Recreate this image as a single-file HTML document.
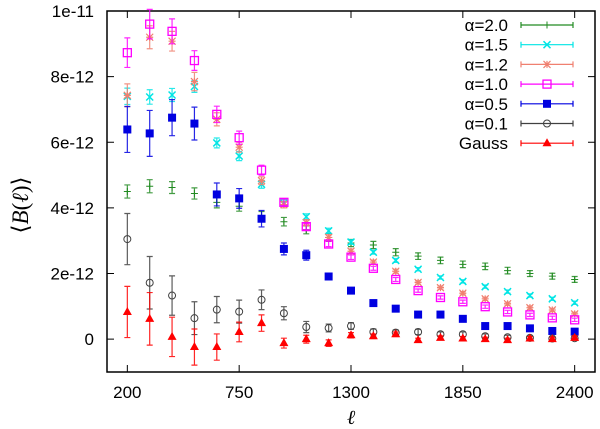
<!DOCTYPE html>
<html><head><meta charset="utf-8"><style>
body{margin:0;background:#fff}
svg{display:block;font-family:"Liberation Sans",sans-serif}
</style></head><body>
<svg id="chart" width="600" height="429" viewBox="0 0 600 429" xmlns="http://www.w3.org/2000/svg">
<g id="plot"></g>
</svg>
<script>
const ells = [200,310,420,530,640,750,860,970,1080,1190,1300,1410,1520,1630,1740,1850,1960,2070,2180,2290,2400];
const yTicks = [0,2,4,6,8,10];
const yTickLabels = ["0","2e-12","4e-12","6e-12","8e-12","1e-11"];
const xTicks = [200,750,1300,1850,2400];
const seriesNames = ["α=2.0","α=1.5","α=1.2","α=1.0","α=0.5","α=0.1","Gauss"];
const a20 = [4.5,4.66,4.62,4.44,4.17,4.05,3.75,3.58,3.33,3.1,2.93,2.87,2.65,2.53,2.4,2.28,2.22,2.09,2.0,1.92,1.82];
const a20err = [0.2,0.2,0.18,0.17,0.17,0.15,0.14,0.13,0.12,0.12,0.11,0.11,0.11,0.1,0.1,0.1,0.1,0.1,0.09,0.09,0.09];
const a15 = [7.4,7.38,7.44,7.7,5.98,5.58,4.72,4.15,3.73,3.3,2.96,2.65,2.4,2.13,1.88,1.76,1.6,1.45,1.33,1.23,1.11];
const a15err = [0.25,0.22,0.2,0.18,0.15,0.14,0.12,0.1,0.09,0.08,0.07,0.06,0.06,0.05,0.05,0.05,0.05,0.05,0.05,0.05,0.05];
const a12 = [7.43,9.2,9.08,7.85,6.7,5.85,4.83,4.1,3.55,3.1,2.68,2.35,2.07,1.73,1.57,1.4,1.23,1.08,0.96,0.89,0.77];
const a12err = [0.35,0.35,0.3,0.28,0.2,0.15,0.12,0.1,0.09,0.08,0.07,0.06,0.06,0.05,0.05,0.05,0.05,0.05,0.05,0.05,0.05];
const a10 = [8.73,9.6,9.38,8.49,6.85,6.14,5.15,4.17,3.43,2.9,2.5,2.16,1.82,1.48,1.27,1.14,0.99,0.83,0.74,0.65,0.59];
const a10err = [0.45,0.45,0.38,0.3,0.25,0.2,0.15,0.1,0.09,0.08,0.07,0.06,0.06,0.05,0.05,0.05,0.05,0.05,0.05,0.05,0.05];
const a05 = [6.39,6.27,6.75,6.57,4.41,4.29,3.67,2.75,2.56,1.91,1.48,1.1,0.93,0.75,0.75,0.62,0.4,0.4,0.33,0.25,0.23];
const a05err = [0.7,0.7,0.55,0.5,0.35,0.3,0.25,0.18,0.15,0.1,0.09,0.08,0.07,0.07,0.06,0.06,0.06,0.06,0.06,0.06,0.06];
const a01 = [3.05,1.72,1.33,0.64,0.9,0.84,1.2,0.79,0.37,0.34,0.4,0.22,0.2,0.22,0.15,0.15,0.09,0.06,0.04,0.02,0.03];
const a01err = [0.78,0.8,0.6,0.5,0.4,0.35,0.3,0.2,0.17,0.12,0.1,0.09,0.08,0.08,0.07,0.07,0.07,0.06,0.06,0.06,0.06];
const gauss = [0.83,0.62,0.07,-0.24,-0.24,0.22,0.49,-0.12,0,-0.12,0.12,0.09,0.15,-0.03,0.04,0.02,0,-0.03,0.02,0,0.04];
const gausserr = [0.78,0.8,0.6,0.55,0.4,0.3,0.25,0.15,0.12,0.1,0.08,0.07,0.07,0.06,0.06,0.06,0.06,0.06,0.06,0.06,0.06];

const NS="http://www.w3.org/2000/svg";
const L=107,R=595,T=11,B=372;
const xS=v=>L+(v-100)/(2500-100)*(R-L);
const yS=v=>B-(v+1)/11*(B-T);
const g=document.getElementById('plot');
function mk(tag,attrs,parent){const e=document.createElementNS(NS,tag);for(const k in attrs)e.setAttribute(k,attrs[k]);(parent||g).appendChild(e);return e;}

const frame=mk('rect',{x:L,y:T,width:R-L,height:B-T,fill:'none',stroke:'#000','stroke-width':1.5});


yTicks.forEach((t,i)=>{
  const y=yS(t);
  const tk=mk('path',{d:`M${L} ${y}h7M${R} ${y}h-7`,stroke:'#000','stroke-width':1});
  
  
  const tx=mk('text',{x:L-13,y:y+6,'text-anchor':'end','font-size':17});
  tx.textContent=yTickLabels[i];
  
  
});
xTicks.forEach(t=>{
  const x=xS(t);
  const tk=mk('path',{d:`M${x} ${B}v-7M${x} ${T}v7`,stroke:'#000','stroke-width':1});
  
  
  const tx=mk('text',{x:x,y:398,'text-anchor':'middle','font-size':17});
  tx.textContent=String(t);
  
  
});
const xt=mk('text',{x:351,y:424,'text-anchor':'middle','font-size':20,'font-style':'italic','font-family':'Liberation Serif,serif'});
xt.textContent='ℓ';


const yt=mk('text',{x:0,y:0,'text-anchor':'middle','font-size':23,'font-family':'Liberation Serif,serif',transform:'translate(28,205) rotate(-90)'});


const p1=mk('tspan',{},yt);p1.textContent='⟨';
const p2=mk('tspan',{'font-style':'italic'},yt);p2.textContent='B';
const p3=mk('tspan',{},yt);p3.textContent='(';
const p4=mk('tspan',{'font-style':'italic'},yt);p4.textContent='ℓ';
const p5=mk('tspan',{},yt);p5.textContent=')⟩';

function marker(type,x,y,c,parent){
  const s=3.5;
  if(type==='plus') return mk('path',{d:`M${x-s} ${y}h${2*s}M${x} ${y-s}v${2*s}`,stroke:c,'stroke-width':1},parent);
  if(type==='x') return mk('path',{d:`M${x-s} ${y-s}l${2*s} ${2*s}M${x+s} ${y-s}l${-2*s} ${2*s}`,stroke:c,'stroke-width':1.5},parent);
  if(type==='star') return mk('path',{d:`M${x-s} ${y-s}l${2*s} ${2*s}M${x+s} ${y-s}l${-2*s} ${2*s}M${x-s} ${y}h${2*s}M${x} ${y-s}v${2*s}`,stroke:c,'stroke-width':1.2},parent);
  if(type==='osq') return mk('rect',{x:x-4,y:y-4,width:8,height:8,fill:'none',stroke:c,'stroke-width':1.3},parent);
  if(type==='fsq') return mk('rect',{x:x-4,y:y-4,width:8,height:8,fill:c},parent);
  if(type==='circ') return mk('circle',{cx:x,cy:y,r:3.5,fill:'none',stroke:c,'stroke-width':1},parent);
  if(type==='tri') return mk('path',{d:`M${x} ${y-5}L${x+4.5} ${y+3}L${x-4.5} ${y+3}Z`,fill:c},parent);
}
const series=[
  [a20,a20err,'#228b22','plus','series-alpha-2-0'],
  [a15,a15err,'#00e5e5','x','series-alpha-1-5'],
  [a12,a12err,'#f08070','star','series-alpha-1-2'],
  [a10,a10err,'#ff00ff','osq','series-alpha-1-0'],
  [a05,a05err,'#0000e0','fsq','series-alpha-0-5'],
  [a01,a01err,'#404040','circ','series-alpha-0-1'],
  [gauss,gausserr,'#ff0000','tri','series-gauss']
];
series.forEach((s,si)=>{
  const [vals,errs,c,m,name]=s;
  const sg=mk('g',{});
  
  
  vals.forEach((v,i)=>{
    const x=xS(ells[i]),y=yS(v),y1=yS(v-errs[i]),y2=yS(v+errs[i]);
    const eb=mk('path',{d:`M${x} ${y1}V${y2}M${x-3} ${y1}h6M${x-3} ${y2}h6`,stroke:c,'stroke-width':1.2,'stroke-opacity':0.85},sg);
    
    
    const p=marker(m,x,y,c,sg);
    
    
  });
  const ly=25+si*19.7;
  const lg=mk('g',{});
  
  
  const lt=mk('text',{x:508,y:ly+6,'text-anchor':'end','font-size':17},lg);
  lt.textContent=seriesNames[si];
  mk('path',{d:`M521 ${ly}H573M521 ${ly-3}v6M573 ${ly-3}v6`,stroke:c,'stroke-width':1.2},lg);
  marker(m,547,ly,c,lg);
});
</script>
</body></html>
